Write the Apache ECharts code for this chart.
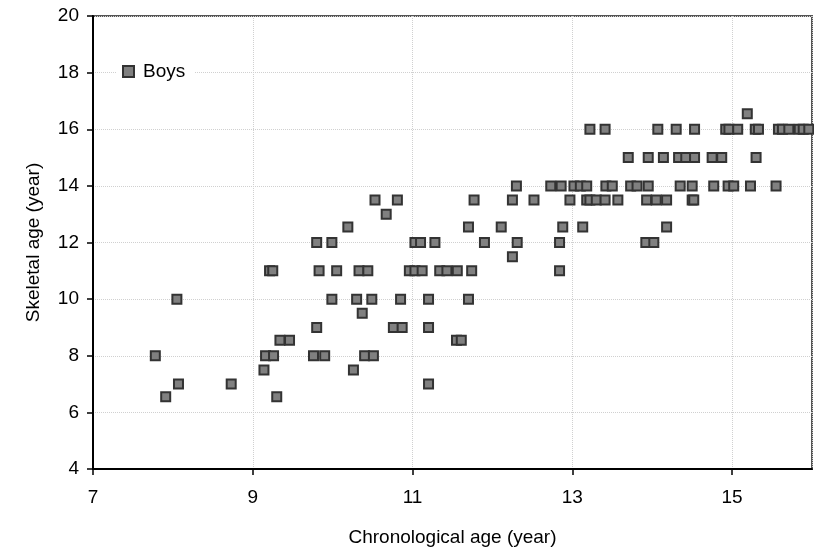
<!DOCTYPE html>
<html>
<head>
<meta charset="utf-8">
<script src="https://cdn.jsdelivr.net/npm/echarts@6/dist/echarts.min.js"></script>
<style>
  html, body { margin: 0; padding: 0; background: #fff; }
  #chart { width: 814px; height: 553px; }
</style>
</head>
<body>
<div id="chart"></div>
<script>
// chronological age (x) for each point, grouped by skeletal age (y)
const boysAge = [
    7.91, 9.3,
    8.07, 8.73, 11.2,
    9.14, 10.26,
    7.78, 9.16, 9.26, 9.76, 9.9, 10.4, 10.51,
    9.34, 9.46, 11.55, 11.61,
    9.8, 10.76, 10.87, 11.2,
    10.37,
    8.05, 9.99, 10.3, 10.49, 10.85, 11.2, 11.7,
    9.21, 9.25, 9.83, 10.05, 10.33, 10.44, 10.96, 11.03, 11.12, 11.34, 11.43, 11.56, 11.74, 12.84,
    12.25,
    9.8, 9.99, 11.03, 11.1, 11.28, 11.9, 12.31, 12.84, 13.92, 14.02,
    10.19, 11.7, 12.11, 12.88, 13.13, 14.18,
    10.67,
    10.53, 10.81, 11.77, 12.25, 12.52, 12.97, 13.18, 13.22, 13.3, 13.41, 13.57, 13.93, 14.05, 14.18, 14.5, 14.52,
    12.3, 12.73, 12.86, 13.02, 13.1, 13.18, 13.42, 13.5, 13.73, 13.81, 13.95, 14.35, 14.5, 14.77, 14.95, 15.02, 15.23, 15.55,
    13.7, 13.95, 14.14, 14.33, 14.42, 14.53, 14.75, 14.87, 15.3,
    13.22, 13.41, 14.07, 14.3, 14.53, 14.92, 14.96, 15.07, 15.29, 15.33, 15.58, 15.63, 15.71, 15.84, 15.89, 15.96,
    15.19
];
const boysSkeletal = [
    6.55, 6.55,
    7, 7, 7,
    7.5, 7.5,
    8, 8, 8, 8, 8, 8, 8,
    8.55, 8.55, 8.55, 8.55,
    9, 9, 9, 9,
    9.5,
    10, 10, 10, 10, 10, 10, 10,
    11, 11, 11, 11, 11, 11, 11, 11, 11, 11, 11, 11, 11, 11,
    11.5,
    12, 12, 12, 12, 12, 12, 12, 12, 12, 12,
    12.55, 12.55, 12.55, 12.55, 12.55, 12.55,
    13,
    13.5, 13.5, 13.5, 13.5, 13.5, 13.5, 13.5, 13.5, 13.5, 13.5, 13.5, 13.5, 13.5, 13.5, 13.5, 13.5,
    14, 14, 14, 14, 14, 14, 14, 14, 14, 14, 14, 14, 14, 14, 14, 14, 14, 14,
    15, 15, 15, 15, 15, 15, 15, 15, 15,
    16, 16, 16, 16, 16, 16, 16, 16, 16, 16, 16, 16, 16, 16, 16, 16,
    16.55
];
const seriesName = "Boys";

let chart = echarts.init(document.querySelector("#chart"));

const font = "Liberation Sans, Arial, sans-serif";
const points = boysAge.map((a, i) => [a, boysSkeletal[i]]);

let option = {
    animation: false,
    textStyle: { fontFamily: font },
    grid: {
        left: 93,
        right: 2,
        top: 16,
        bottom: 84,
        show: true,
        borderColor: "#555",
        borderWidth: 2,
        backgroundColor: "transparent"
    },
    legend: {
        left: 117,
        top: 60,
        padding: [2, 9, 2, 5],
        backgroundColor: "#fff",
        itemWidth: 11,
        itemHeight: 11,
        icon: "rect",
        textStyle: { fontSize: 19, color: "#000", fontFamily: font, padding: [0, 0, 0, 4] },
        data: [seriesName]
    },
    xAxis: {
        type: "value",
        min: 7,
        max: 16,
        interval: 2,
        name: "Chronological age (year)",
        nameLocation: "middle",
        nameGap: 59,
        nameTextStyle: { fontSize: 19, color: "#000", fontFamily: font },
        axisLine: { show: true, onZero: false, lineStyle: { color: "#000", width: 2 } },
        axisTick: { show: true, inside: false, length: 6, lineStyle: { color: "#000", width: 1.5 } },
        axisLabel: { fontSize: 19, color: "#000", margin: 19, showMaxLabel: false, fontFamily: font },
        splitLine: { show: true, lineStyle: { color: "#d0d0d0", type: "dotted", width: 1 } }
    },
    yAxis: {
        type: "value",
        min: 4,
        max: 20,
        interval: 2,
        name: "Skeletal age (year)",
        nameLocation: "middle",
        nameGap: 50,
        nameTextStyle: { fontSize: 19, color: "#000", fontFamily: font },
        axisLine: { show: true, onZero: false, lineStyle: { color: "#000", width: 2 } },
        axisTick: { show: true, inside: false, length: 6, lineStyle: { color: "#000", width: 1.5 } },
        axisLabel: { fontSize: 19, color: "#000", margin: 14, fontFamily: font },
        splitLine: { show: true, lineStyle: { color: "#d0d0d0", type: "dotted", width: 1 } }
    },
    series: [{
        name: seriesName,
        type: "scatter",
        symbol: "rect",
        symbolSize: 9,
        itemStyle: { color: "#808080", borderColor: "#333", borderWidth: 2, opacity: 1 },
        data: points
    }]
};

chart.setOption(option);
</script>
</body>
</html>
